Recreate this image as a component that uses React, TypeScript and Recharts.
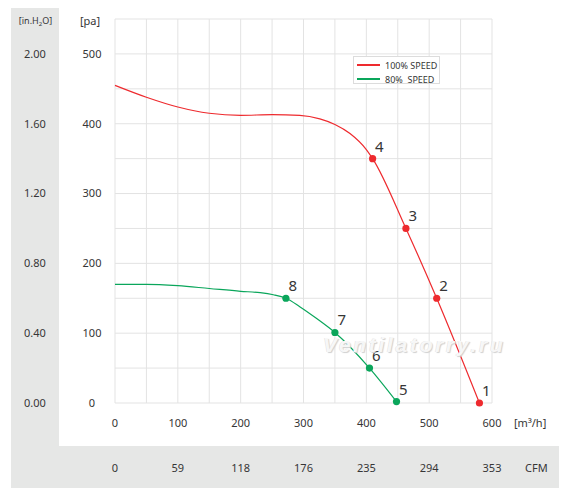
import { ComposedChart, Line, XAxis, YAxis, CartesianGrid, Legend } from 'recharts'

// 100% speed curve (m3/h, Pa); marks are the numbered test points
const flow100 = [0, 50, 100, 150, 200, 250, 294, 326, 350, 374, 400, 410, 463, 512, 580]
const pressure100 = [455, 438, 424, 415, 412, 413, 412, 407, 399, 386, 363, 350, 250, 150, 0]
const marks100 = ['', '', '', '', '', '', '', '', '', '', '', '4', '3', '2', '1']

// 80% speed curve
const flow80 = [0, 50, 100, 150, 200, 231, 252, 272, 294, 321, 350, 405, 448]
const pressure80 = [170, 170, 168, 164, 160, 158, 155, 150, 138, 121, 101, 50, 2]
const marks80 = ['', '', '', '', '', '', '', '8', '', '', '7', '6', '5']

const flowTicks = [0, 50, 100, 150, 200, 250, 300, 350, 400, 450, 500, 550, 600]
const cfmTicks = [0, 100, 200, 300, 400, 500, 600]
const cfmLabels = ['0', '59', '118', '176', '235', '294', '353']
const paTicks = [0, 50, 100, 150, 200, 250, 300, 350, 400, 450, 500, 550]
const paLabelled = [0, 100, 200, 300, 400, 500]
const inH2OLabels = ['0.00', '0.40', '0.80', '1.20', '1.60', '2.00']

const RED = '#ee2a2e'
const GREEN = '#0aa65b'
const TEXT = '#363636'
const FONT = '"Noto Sans", sans-serif'

const data100 = flow100.map((q, i) => ({ q, p: pressure100[i], n: marks100[i] }))
const data80 = flow80.map((q, i) => ({ q, p: pressure80[i], n: marks80[i] }))

function makeDot(color: string) {
  return (props: any) => {
    const { cx, cy, payload, index } = props
    if (!payload || !payload.n) return <g key={index} />
    return (
      <g key={index}>
        <circle cx={cx} cy={cy} r={3.6} fill={color} />
        <text x={cx + 2.5} y={cy - 7} fontSize={15} fill={TEXT} fontFamily={FONT}>
          {payload.n}
        </text>
      </g>
    )
  }
}

function PaTick({ x, y, payload }: any) {
  const v = payload.value
  if (!paLabelled.includes(v)) return <g />
  return (
    <text x={x - 23} y={y} dy='0.355em' textAnchor='middle' fontSize={11} fill={TEXT} fontFamily={FONT}>
      {v}
    </text>
  )
}

function InTick({ x, y, payload }: any) {
  const i = paLabelled.indexOf(payload.value)
  if (i < 0) return <g />
  return (
    <text x={x - 24} y={y} dy='0.355em' textAnchor='middle' fontSize={11} fill={TEXT} fontFamily={FONT}>
      {inH2OLabels[i]}
    </text>
  )
}

function LegendBox() {
  const row = (color: string, label: string) => (
    <div style={{ display: 'flex', alignItems: 'center', height: 14 }}>
      <span style={{ display: 'inline-block', width: 23, height: 2, background: color, marginLeft: 3 }} />
      <span style={{ marginLeft: 5, fontSize: 9, color: TEXT, whiteSpace: 'pre', fontFamily: FONT }}>{label}</span>
    </div>
  )
  return (
    <div
      style={{
        width: 87,
        height: 28,
        boxSizing: 'border-box',
        border: '1px solid #dcdcdc',
        background: '#fff',
        paddingTop: 1,
      }}
    >
      {row(RED, '100% SPEED')}
      {row(GREEN, '80%  SPEED')}
    </div>
  )
}

export default function App() {
  return (
    <div style={{ position: 'absolute', left: 0, top: 0, width: 568, height: 498, background: '#fff', fontFamily: FONT }}>
      <div style={{ position: 'absolute', left: 11, top: 8, width: 48, height: 480, background: '#e6e7e6' }} />
      <div style={{ position: 'absolute', left: 11, top: 446, width: 548, height: 42, background: '#e6e7e6' }} />
      <div style={{ position: 'absolute', left: 0, top: 0 }}>
        <ComposedChart width={568} height={498} margin={{ top: 19, right: 76, bottom: 10, left: 0 }}>
          <CartesianGrid stroke='#e3e3e3' />
          <XAxis
            dataKey='q'
            type='number'
            domain={[0, 600]}
            ticks={flowTicks}
            interval={0}
            tickFormatter={(v: number) => (v % 100 === 0 ? String(v) : '')}
            axisLine={false}
            tickLine={false}
            tickSize={0}
            tickMargin={16}
            height={42}
            tick={{ fontSize: 11, fill: TEXT, fontFamily: FONT }}
            label={(props: any) => {
              const vb = props.viewBox
              return (
                <text x={vb.x + vb.width + 22} y={vb.y + 24} fontSize={11} fill={TEXT} fontFamily={FONT}>
                  [m³/h]
                </text>
              )
            }}
          />
          <XAxis
            xAxisId='cfm'
            dataKey='q'
            type='number'
            domain={[0, 600]}
            ticks={cfmTicks}
            interval={0}
            tickFormatter={(v: number) => cfmLabels[cfmTicks.indexOf(v)]}
            axisLine={false}
            tickLine={false}
            tickSize={0}
            tickMargin={19}
            height={43}
            tick={{ fontSize: 11, fill: TEXT, fontFamily: FONT }}
            label={(props: any) => {
              const vb = props.viewBox
              return (
                <text x={vb.x + vb.width + 33} y={vb.y + 27} fontSize={11} fill={TEXT} fontFamily={FONT}>
                  CFM
                </text>
              )
            }}
          />
          <YAxis
            type='number'
            domain={[0, 550]}
            ticks={paTicks}
            interval={0}
            width={56}
            axisLine={false}
            tickLine={false}
            tickSize={0}
            tickMargin={0}
            tick={<PaTick />}
            label={(props: any) => {
              const vb = props.viewBox
              return (
                <text x={vb.x + vb.width - 25} y={vb.y + 6} textAnchor='middle' fontSize={11} fill={TEXT} fontFamily={FONT}>
                  [pa]
                </text>
              )
            }}
          />
          <YAxis
            yAxisId='in'
            type='number'
            domain={[0, 550]}
            ticks={paTicks}
            interval={0}
            width={59}
            axisLine={false}
            tickLine={false}
            tickSize={0}
            tickMargin={0}
            tick={<InTick />}
            label={(props: any) => {
              const vb = props.viewBox
              return (
                <text x={vb.x + vb.width - 23.5} y={vb.y + 5} textAnchor='middle' fontSize={9} fill={TEXT} fontFamily={FONT}>
                  [in.H
                  <tspan dy={2} fontSize={6}>2</tspan>
                  <tspan dy={-2}>O]</tspan>
                </text>
              )
            }}
          />
          <Legend
            layout='horizontal'
            verticalAlign='middle'
            align='center'
            content={() => <LegendBox />}
            wrapperStyle={{ left: 353, top: 56, width: 87, height: 28 }}
          />
          <Line
            data={data100}
            dataKey='p'
            type='monotone'
            stroke={RED}
            strokeWidth={1.2}
            dot={makeDot(RED)}
            activeDot={false}
            isAnimationActive={false}
          />
          {/* same scales as the main axes; ties the CFM / in.H2O axes to a series */}
          <Line
            data={data80}
            dataKey='p'
            xAxisId='cfm'
            yAxisId='in'
            type='monotone'
            stroke={GREEN}
            strokeWidth={1.2}
            dot={makeDot(GREEN)}
            activeDot={false}
            isAnimationActive={false}
          />
        </ComposedChart>
      </div>
      <div
        style={{
          position: 'absolute',
          left: 323,
          top: 334,
          fontFamily: '"Liberation Sans", Arial, sans-serif',
          fontSize: 21,
          lineHeight: '21px',
          fontStyle: 'italic',
          fontWeight: 'bold',
          letterSpacing: 2.7,
          color: 'rgba(252,252,252,0.9)',
          textShadow: '1px 1px 1px #d0d0d0, -0.5px -0.5px 0 #e2e2e2',
          pointerEvents: 'none',
        }}
      >
        Ventilatorry.ru
      </div>
    </div>
  )
}
